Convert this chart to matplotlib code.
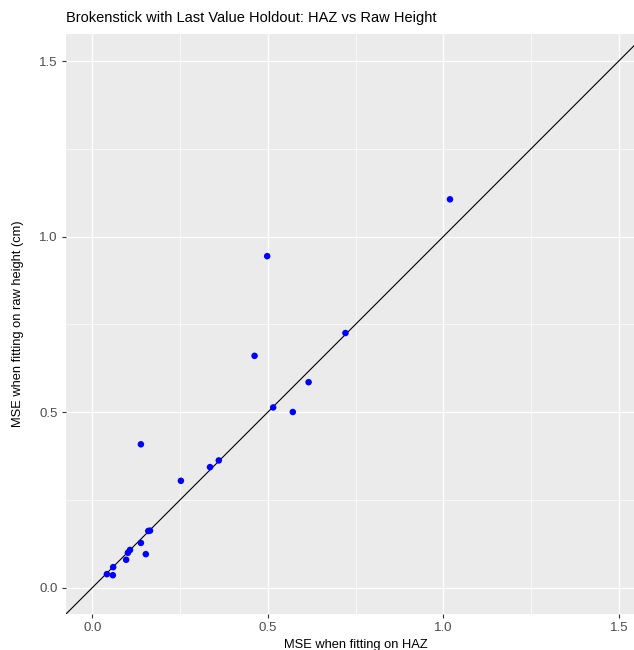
import numpy as np
import matplotlib.pyplot as plt
from matplotlib.ticker import MultipleLocator

plt.rcParams['font.family'] = ['Liberation Sans', 'DejaVu Sans']

# MSE values
mse_haz = [0.138, 0.252, 0.335, 0.360, 0.159, 0.164, 0.138, 0.152, 0.101, 0.107,
           0.096, 0.059, 0.041, 0.058, 0.498, 0.462, 0.721, 0.616, 0.515, 0.571, 1.019]
mse_raw = [0.408, 0.304, 0.343, 0.362, 0.161, 0.162, 0.127, 0.095, 0.099, 0.107,
           0.079, 0.058, 0.038, 0.035, 0.944, 0.660, 0.725, 0.585, 0.513, 0.500, 1.106]
tick_vals = [0.0, 0.5, 1.0, 1.5]
tick_labels = ['0.0', '0.5', '1.0', '1.5']

W, H = 634, 650
fig = plt.figure(figsize=(W / 100, H / 100), dpi=100)
ax = fig.add_axes([66 / W, (H - 614) / H, 1 - 66 / W, (614 - 34) / H])
ax.set_facecolor('#EBEBEB')
for s in ax.spines.values():
    s.set_visible(False)

ax.set_xlim(-0.0755, 1.5435)
ax.set_ylim(-0.0755, 1.577)
ax.set_xticks(tick_vals)
ax.set_xticklabels(tick_labels)
ax.set_yticks(tick_vals)
ax.set_yticklabels(tick_labels)
ax.xaxis.set_minor_locator(MultipleLocator(0.25))
ax.yaxis.set_minor_locator(MultipleLocator(0.25))
ax.grid(which='major', color='white', lw=1.0)
ax.grid(which='minor', color='white', lw=0.5)
ax.set_axisbelow(True)
ax.tick_params(which='major', length=3, width=0.8, color='#333333',
               labelcolor='#4D4D4D', labelsize=9.5, pad=3)
ax.tick_params(which='minor', length=0)

lim = np.array([-0.2, 1.7])
ax.plot(lim, lim, color='black', lw=0.8, zorder=2)
ax.scatter(mse_haz, mse_raw, s=22, color='blue', edgecolors='none', zorder=3)

fig.text(66 / W, 1 - 18 / H, 'Brokenstick with Last Value Holdout: HAZ vs Raw Height',
         fontsize=10.5, ha='left', va='center')
fig.text(356 / W, 1 - 645 / H, 'MSE when fitting on HAZ', fontsize=9.3,
         ha='center', va='center')
fig.text(18 / W, 1 - 324 / H, 'MSE when fitting on raw height (cm)', fontsize=9.3,
         ha='center', va='center', rotation=90)

fig.savefig('out.png', dpi=100)
